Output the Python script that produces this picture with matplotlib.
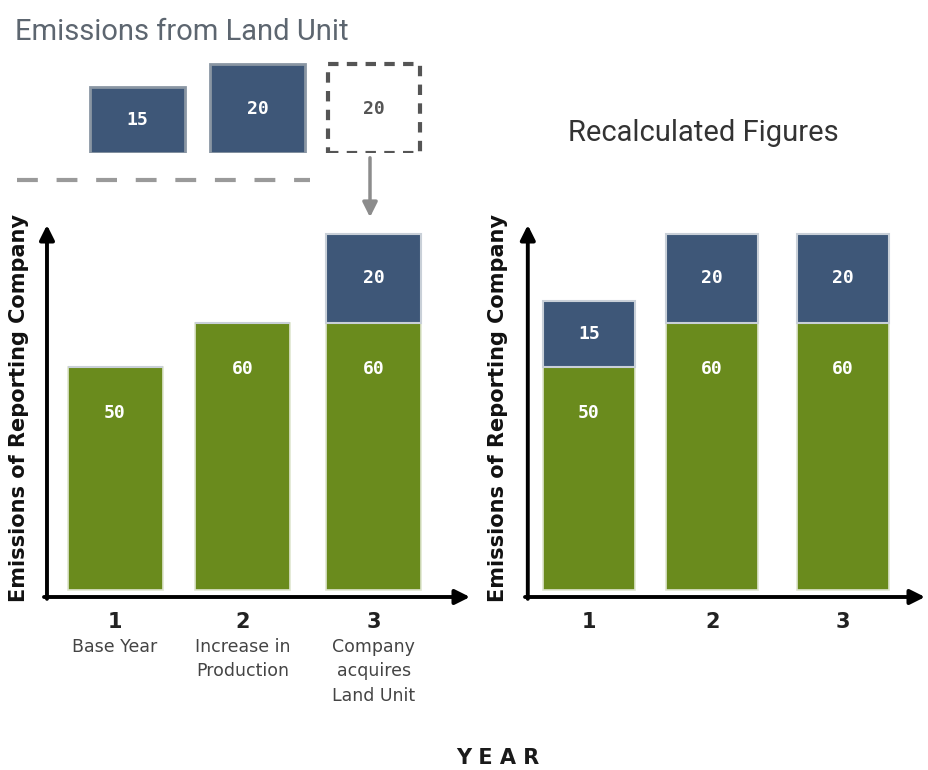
import matplotlib
matplotlib.use("Agg")
import matplotlib.pyplot as plt
from matplotlib.lines import Line2D

W, H = 929, 770

# data
years = ["1", "2", "3"]
year_notes = ["Base Year", "Increase in\nProduction", "Company\nacquires\nLand Unit"]
company = [50, 60, 60]               # reporting company emissions (green)
land_unit = [15, 20, 20]             # emissions from land unit (blue)
reported_land = [0, 0, 20]           # land unit included as reported
recalc_land = [15, 20, 20]           # recalculated figures

GREEN = "#6a8b1d"
BLUE = "#3e5778"
TITLE_FONT = ["Roboto", "DejaVu Sans"]
MONO = ["DejaVu Sans Mono"]


def px_rect(left, top, right, bottom):
    return [left / W, 1 - bottom / H, (right - left) / W, (bottom - top) / H]


fig = plt.figure(figsize=(W / 100, H / 100), dpi=100)
fig.patch.set_facecolor("white")


def setup_axes(ax, xlim):
    ax.set_xlim(*xlim)
    ax.set_ylim(-1.6, 82)
    for s in ax.spines.values():
        s.set_visible(False)
    ax.set_xticks([])
    ax.set_yticks([])
    arrow = dict(arrowstyle="-|>", lw=2.8, color="black", mutation_scale=22,
                 shrinkA=0, shrinkB=0)
    ax.annotate("", xy=(1.0, 0), xytext=(0.0, 0), xycoords="axes fraction",
                arrowprops=arrow)
    ax.annotate("", xy=(0.007, 1.0), xytext=(0.007, -0.005), xycoords="axes fraction",
                arrowprops=arrow)


def draw_stack(ax, pos, width, green, blue):
    ax.bar(pos, green, width, color=GREEN, edgecolor="#dfe6cf", linewidth=1.2)
    ax.bar(pos, blue, width, bottom=green, color=BLUE, edgecolor="#c9d0d8", linewidth=1.5)
    for x, g, b in zip(pos, green, blue):
        ax.text(x, g - 10.3, str(g), color="white", ha="center", va="center",
                fontsize=13, fontweight="bold", family=MONO)
        if b:
            ax.text(x, g + b / 2, str(b), color="white", ha="center", va="center",
                    fontsize=13, fontweight="bold", family=MONO)


# left panel: as reported
ax1 = fig.add_axes(px_rect(44, 225, 470, 597))
setup_axes(ax1, (0.443, 3.784))
pos1 = [1, 2, 3.03]
draw_stack(ax1, pos1, 0.745, company, reported_land)
xt = ax1.get_xaxis_transform()
for x, y, note in zip(pos1, years, year_notes):
    ax1.text(x, -0.068, y, transform=xt, ha="center", va="center",
             fontsize=15, fontweight="bold", color="#222222")
    ax1.text(x, -0.11, note, transform=xt, ha="center", va="top",
             fontsize=12.5, color="#444444", linespacing=1.45)

# right panel: recalculated
ax2 = fig.add_axes(px_rect(525, 225, 925, 597))
setup_axes(ax2, (0.496, 3.646))
pos2 = [1, 1.97, 3.0]
draw_stack(ax2, pos2, 0.72, company, recalc_land)
xt2 = ax2.get_xaxis_transform()
for x, y in zip(pos2, years):
    ax2.text(x, -0.068, y, transform=xt2, ha="center", va="center",
             fontsize=15, fontweight="bold", color="#222222")

# top strip: emissions from the land unit
ax0 = fig.add_axes(px_rect(44, 60, 470, 153))
ax0.set_xlim(0.443, 3.784)
ax0.set_ylim(0, 21)
ax0.axis("off")
pos0 = [1.176, 2.118, 3.031]
ax0.bar(pos0[:2], land_unit[:2], 0.745, color=BLUE, edgecolor="#8a96a3", linewidth=2)
ax0.bar(pos0[2], land_unit[2], 0.72, color="white", edgecolor="#555555",
        linewidth=3, linestyle=(0, (2.5, 2)))
for x, v, c in zip(pos0, land_unit, ["white", "white", "#555555"]):
    ax0.text(x, v / 2, str(v), color=c, ha="center", va="center",
             fontsize=13, fontweight="bold", family=MONO)

# dashed guide line and arrow down to the third bar
fig.add_artist(Line2D([17 / W, 310 / W], [1 - 180 / H, 1 - 180 / H], color="#9a9a9a",
                      lw=3, linestyle=(0, (5, 4.5))))
fig.add_artist(matplotlib.patches.FancyArrowPatch(
    (370 / W, 1 - 155 / H), (370 / W, 1 - 220 / H), transform=fig.transFigure,
    arrowstyle="-|>", mutation_scale=22, lw=2.5, color="#8c8c8c"))

# titles and labels
fig.text(15 / W, 1 - 32 / H, "Emissions from Land Unit", ha="left", va="center",
         fontsize=21, color="#5d6670", family=TITLE_FONT)
fig.text(703 / W, 1 - 133 / H, "Recalculated Figures", ha="center", va="center",
         fontsize=21, color="#333333", family=TITLE_FONT)
for x in (19, 498):
    fig.text(x / W, 1 - 408 / H, "Emissions of Reporting Company", rotation=90,
             ha="center", va="center", fontsize=15, fontweight="bold",
             family="DejaVu Sans", color="#111111")
fig.text(498 / W, 1 - 758 / H, "Y E A R", ha="center", va="center", fontsize=15,
         fontweight="bold", color="#1a1a1a")

fig.savefig("out.png", dpi=100, facecolor="white")
